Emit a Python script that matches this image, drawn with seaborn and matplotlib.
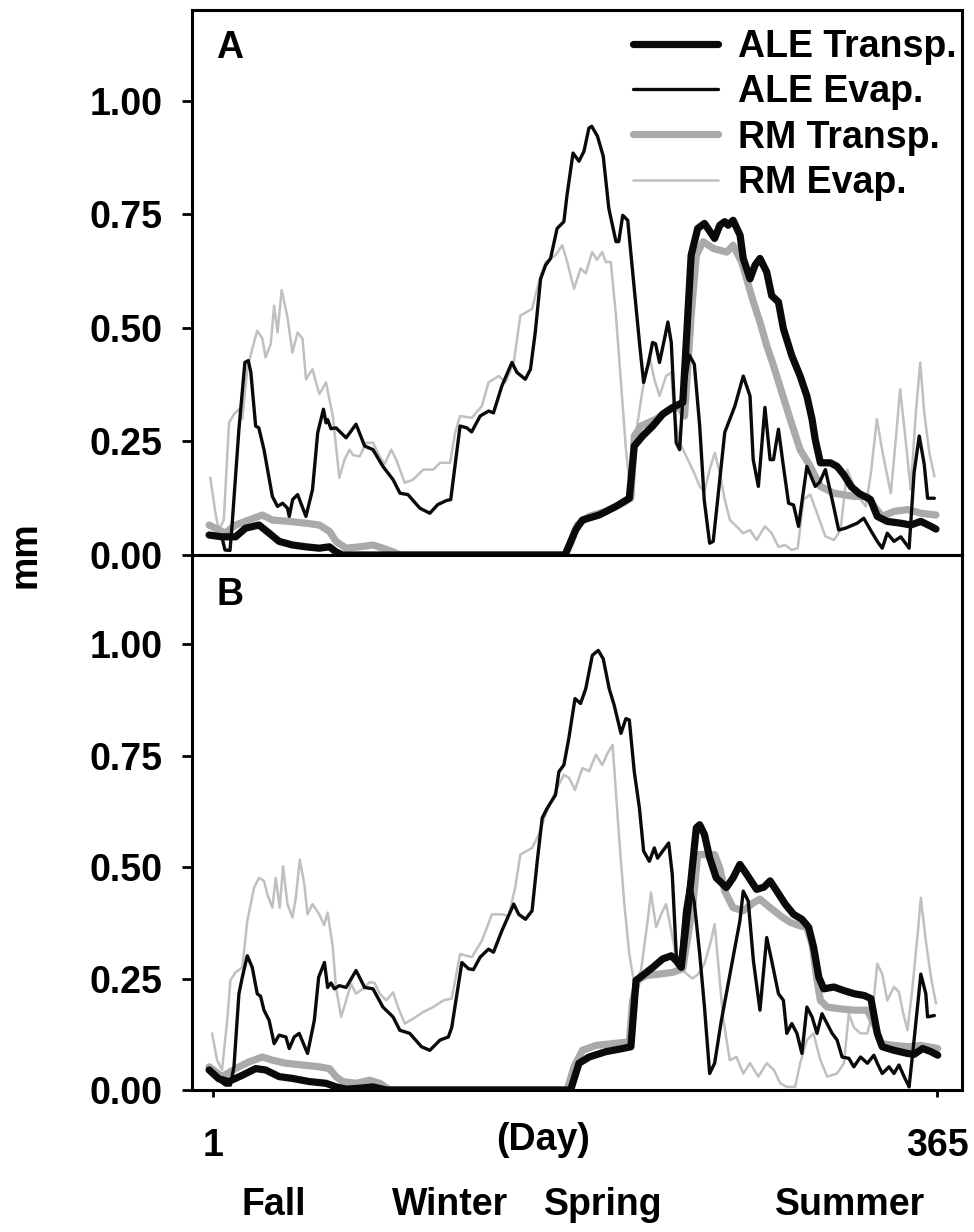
import matplotlib
matplotlib.use("Agg")
import matplotlib.pyplot as plt
import seaborn as sns
import pandas as pd

# ---------------- data ----------------
SERIES = ["ALE Transp.", "ALE Evap.", "RM Transp.", "RM Evap."]
SEASONS = ["Fall", "Winter", "Spring", "Summer"]
X_TICKS = [1, 365]
Y_TICKS = [0.0, 0.25, 0.5, 0.75, 1.0]

# Panel A
A_ALE_EVAP_DAY = [-1, 5.5, 7, 9.5, 10.5, 14, 17, 18.7, 20, 22.4,
                  24, 26.6, 30.8, 33.4, 36, 38.4, 39.3, 41, 43.5, 47.7,
                  51, 53.6, 56.5, 57.8, 58.6, 60.3, 62.8, 67.9, 72.9, 77.2,
                  81.4, 86.4, 91.5, 95, 99, 105, 110, 114, 118.4, 120.5,
                  125.2, 128.6, 131, 135.3, 139.5, 142, 146.2, 151.3, 153.8, 158,
                  160.6, 163, 165.7, 168.2, 170.7, 174, 177.4, 179, 182, 185,
                  187.5, 190, 191.4, 194.3, 197.2, 200, 203.6, 205, 207, 209.5,
                  212.8, 215.4, 217.5, 220, 222, 223.5, 225.5, 228, 229.7, 231.4,
                  233.9, 235.6, 237.2, 240.5, 243, 245.7, 248, 250.7, 252.5, 255.8,
                  258.3, 263.4, 267.6, 271, 272.6, 275.2, 278.5, 281.1, 282.8, 285.3,
                  287.8, 290.4, 292.9, 295.4, 299.6, 303.8, 306, 308.9, 312.3, 315.6,
                  319, 324.9, 328.2, 331.6, 335, 337.5, 340, 343.4, 346.8, 351,
                  353.5, 356.1, 358.6, 360.3, 363.7]
A_ALE_EVAP = [0.044, 0.038, 0.011, 0.010, 0.063, 0.277, 0.424, 0.428, 0.402, 0.284,
              0.280, 0.232, 0.129, 0.107, 0.114, 0.103, 0.085, 0.122, 0.133, 0.085,
              0.144, 0.269, 0.321, 0.291, 0.298, 0.278, 0.280, 0.258, 0.288, 0.240,
              0.232, 0.195, 0.166, 0.136, 0.133, 0.103, 0.092, 0.111, 0.120, 0.122,
              0.284, 0.280, 0.271, 0.306, 0.317, 0.313, 0.372, 0.424, 0.402, 0.387,
              0.409, 0.490, 0.608, 0.638, 0.653, 0.719, 0.734, 0.793, 0.885, 0.867,
              0.889, 0.940, 0.944, 0.922, 0.878, 0.763, 0.690, 0.690, 0.748, 0.737,
              0.586, 0.468, 0.380, 0.424, 0.468, 0.465, 0.424, 0.476, 0.513, 0.468,
              0.247, 0.232, 0.343, 0.440, 0.420, 0.284, 0.120, 0.026, 0.030, 0.166,
              0.270, 0.328, 0.394, 0.350, 0.210, 0.151, 0.325, 0.210, 0.210, 0.277,
              0.195, 0.114, 0.110, 0.063, 0.195, 0.151, 0.160, 0.188, 0.122, 0.055,
              0.059, 0.070, 0.081, 0.055, 0.030, 0.015, 0.048, 0.030, 0.040, 0.015,
              0.181, 0.262, 0.200, 0.125, 0.125]

A_ALE_TRANSP_DAY = [-1, 5.5, 12.3, 17.3, 24.1, 29.2, 34.2, 40.9, 47.7, 54.4,
                    59.5, 62.8, 66, 178, 183.3, 186.7, 195.1, 203.6, 210.3, 212.8,
                    217, 222.1, 227.1, 232.2, 237.2, 239.7, 241.4, 244.7, 248.1, 253.2,
                    255.8, 258.3, 260, 262.5, 266, 267.6, 271, 273.5, 276, 279.4,
                    281.9, 285.3, 287.8, 292, 296.2, 299.6, 302.2, 303.8, 306.4, 311.4,
                    314.8, 318.1, 322, 326, 331.6, 335, 340, 346.8, 351.8, 356.9,
                    362, 364.5]
A_ALE_TRANSP = [0.044, 0.040, 0.040, 0.059, 0.066, 0.048, 0.030, 0.022, 0.018, 0.015,
                0.018, 0.007, 0.0, 0.0, 0.055, 0.077, 0.088, 0.107, 0.125, 0.240,
                0.262, 0.284, 0.310, 0.325, 0.336, 0.527, 0.660, 0.719, 0.730, 0.697,
                0.726, 0.734, 0.726, 0.737, 0.704, 0.653, 0.608, 0.638, 0.653, 0.623,
                0.571, 0.557, 0.498, 0.439, 0.394, 0.350, 0.299, 0.254, 0.203, 0.203,
                0.195, 0.177, 0.150, 0.135, 0.122, 0.085, 0.074, 0.070, 0.066, 0.074,
                0.063, 0.057]

A_RM_TRANSP_DAY = [-1, 7, 12.3, 19, 25.8, 30.8, 39.3, 47.7, 54.4, 59.5,
                   62.8, 67.9, 74.7, 81.4, 86.4, 91.5, 95, 178, 180.8, 184.2,
                   190.1, 198.5, 206.9, 211.1, 212.8, 216.2, 223.8, 230.5, 235.6, 238.1,
                   241.4, 244, 247.4, 252.5, 259.3, 262.5, 266.8, 269.3, 272.7, 276,
                   279.4, 282.8, 287, 291.2, 296.2, 301.3, 306.4, 313.2, 323.3, 330,
                   333.4, 337.5, 343.4, 350.2, 356.9, 364.5]
A_RM_TRANSP = [0.066, 0.048, 0.066, 0.077, 0.088, 0.077, 0.074, 0.070, 0.066, 0.052,
               0.030, 0.015, 0.018, 0.022, 0.015, 0.007, 0.0, 0.0, 0.026, 0.066,
               0.085, 0.096, 0.114, 0.125, 0.262, 0.284, 0.299, 0.321, 0.325, 0.306,
               0.527, 0.660, 0.690, 0.675, 0.667, 0.682, 0.645, 0.608, 0.557, 0.513,
               0.461, 0.417, 0.358, 0.299, 0.232, 0.195, 0.151, 0.136, 0.129, 0.129,
               0.107, 0.085, 0.096, 0.100, 0.092, 0.088]

A_RM_EVAP_DAY = [-0.4, 2.2, 3.9, 6.4, 9, 11.5, 14, 15.7, 18.2, 20.7,
                 23.2, 25.8, 27.4, 30, 31.7, 33.4, 35.5, 38.4, 40.9, 43.5,
                 46, 47.7, 51, 54.4, 57.8, 61.2, 64.5, 67.1, 69.6, 71.3,
                 74.7, 78, 81.4, 84.8, 87.2, 90.6, 93.1, 97.4, 101.6, 106.7,
                 111.7, 115.1, 120.2, 122.7, 125.2, 131.1, 136.2, 139.5, 144.6, 148,
                 152.2, 155.5, 161.4, 164.8, 168.2, 173.2, 176.6, 179.1, 182.5, 185.8,
                 188.4, 191.6, 194, 196.7, 198.5, 201, 203.6, 206.1, 208.6, 211.1,
                 213.7, 217, 220.4, 222.9, 225.5, 228.8, 231.4, 233, 235.6, 238.1,
                 243, 245.7, 248.1, 250.7, 253.3, 255.8, 258.3, 260.9, 264.2, 267.6,
                 271, 274.3, 278.5, 281.9, 285.3, 288.7, 292, 295, 297.9, 301.3,
                 304.7, 308.9, 313.2, 316.5, 319.9, 323.3, 326.7, 329.2, 331.8, 334.8,
                 337.7, 341.8, 344.3, 346.5, 349.4, 351.8, 354.4, 356.6, 358.6, 361.2,
                 363.7]
A_RM_EVAP = [0.170, 0.092, 0.055, 0.077, 0.291, 0.310, 0.321, 0.300, 0.409, 0.454,
             0.494, 0.476, 0.435, 0.465, 0.549, 0.490, 0.583, 0.524, 0.446, 0.490,
             0.476, 0.387, 0.409, 0.354, 0.380, 0.306, 0.170, 0.210, 0.232, 0.220,
             0.217, 0.247, 0.247, 0.217, 0.200, 0.232, 0.210, 0.159, 0.166, 0.188,
             0.188, 0.203, 0.203, 0.269, 0.306, 0.302, 0.328, 0.380, 0.394, 0.380,
             0.424, 0.527, 0.542, 0.601, 0.645, 0.660, 0.682, 0.645, 0.586, 0.631,
             0.620, 0.667, 0.650, 0.667, 0.645, 0.645, 0.527, 0.380, 0.232, 0.129,
             0.269, 0.365, 0.439, 0.387, 0.350, 0.394, 0.402, 0.306, 0.247, 0.225,
             0.180, 0.151, 0.140, 0.188, 0.225, 0.181, 0.122, 0.077, 0.063, 0.048,
             0.055, 0.033, 0.063, 0.048, 0.018, 0.022, 0.011, 0.015, 0.122, 0.133,
             0.092, 0.041, 0.033, 0.055, 0.188, 0.151, 0.122, 0.107, 0.181, 0.299,
             0.225, 0.136, 0.254, 0.365, 0.247, 0.144, 0.314, 0.424, 0.314, 0.225,
             0.173]

# Panel B
B_ALE_EVAP_DAY = [-1, 3.9, 7.2, 9.7, 11.5, 14, 15.7, 18.2, 20.7, 23.2,
                  24.9, 26.6, 29.2, 31.7, 34.2, 37.6, 39.3, 41.8, 44.3, 48.5,
                  51.9, 54.1, 57, 58.6, 60.3, 62, 64.5, 67.9, 72.9, 77.2,
                  81.4, 86.4, 91.5, 94.9, 99.9, 105.8, 110, 115.1, 119.3, 121,
                  126.1, 129.4, 131.9, 135.3, 139.5, 142, 146.2, 152.2, 154.7, 158.1,
                  161.4, 164, 166.5, 169, 173.2, 174.9, 177.4, 179.9, 183, 185.8,
                  188.4, 191.7, 194.7, 197.2, 200.2, 202.7, 206.1, 208.6, 210.3, 212.8,
                  215.4, 217.5, 220.4, 222.9, 224.5, 227.1, 230.1, 231.9, 233.9, 235.6,
                  238.1, 240.6, 243, 245.7, 248.1, 250.7, 253.2, 256.6, 259.1, 262.5,
                  265.9, 267.6, 270.1, 272.7, 276, 279.4, 281.9, 285.3, 287.8, 289.5,
                  292, 294.6, 297.1, 299.6, 302.2, 304.7, 307.2, 312.3, 314.8, 317.3,
                  320.7, 323.2, 326.6, 330, 333.3, 335, 337.5, 340.9, 343.4, 345.9,
                  348.5, 351, 353.5, 356.9, 359.4, 360.3, 363.7]
B_ALE_EVAP = [0.041, 0.022, 0.011, 0.011, 0.052, 0.216, 0.253, 0.301, 0.275, 0.216,
              0.210, 0.179, 0.156, 0.104, 0.123, 0.119, 0.093, 0.119, 0.127, 0.082,
              0.156, 0.253, 0.286, 0.230, 0.240, 0.227, 0.234, 0.230, 0.268, 0.230,
              0.227, 0.186, 0.164, 0.134, 0.127, 0.097, 0.089, 0.112, 0.119, 0.140,
              0.286, 0.272, 0.270, 0.298, 0.316, 0.309, 0.357, 0.417, 0.394, 0.383,
              0.402, 0.513, 0.610, 0.632, 0.662, 0.714, 0.729, 0.789, 0.878, 0.867,
              0.900, 0.975, 0.986, 0.967, 0.900, 0.863, 0.800, 0.833, 0.830, 0.714,
              0.632, 0.536, 0.513, 0.543, 0.520, 0.536, 0.554, 0.484, 0.305, 0.275,
              0.402, 0.469, 0.420, 0.305, 0.186, 0.037, 0.060, 0.156, 0.216, 0.298,
              0.379, 0.446, 0.424, 0.290, 0.179, 0.342, 0.290, 0.216, 0.201, 0.127,
              0.149, 0.127, 0.082, 0.186, 0.164, 0.127, 0.171, 0.127, 0.112, 0.074,
              0.071, 0.052, 0.074, 0.060, 0.078, 0.060, 0.037, 0.052, 0.037, 0.056,
              0.030, 0.007, 0.112, 0.260, 0.216, 0.164, 0.167]

B_ALE_TRANSP_DAY = [-1, 3.9, 8.8, 15.7, 22.4, 27.4, 34.2, 40.9, 49.3, 57.8,
                    62.8, 67.9, 74.7, 81.4, 88, 180.8, 185, 190.1, 198.5, 206.9,
                    211.1, 213.7, 217, 222.1, 227.1, 231.4, 233.9, 236.4, 240.6, 244,
                    245.7, 248.1, 250.7, 254, 259.1, 262.5, 265.9, 269.3, 274.3, 278,
                    281.1, 284.5, 288.7, 292.9, 297.1, 300.5, 303, 305.6, 308.1, 313.2,
                    318.2, 323.3, 328.4, 331.8, 335, 337.5, 343.4, 350.2, 353.5, 357.8,
                    362, 365.4]
B_ALE_TRANSP = [0.045, 0.025, 0.019, 0.033, 0.048, 0.045, 0.030, 0.026, 0.019, 0.015,
                0.007, 0.002, 0.004, 0.007, 0.0, 0.0, 0.060, 0.074, 0.086, 0.093,
                0.097, 0.246, 0.257, 0.275, 0.294, 0.301, 0.290, 0.275, 0.439, 0.588,
                0.595, 0.573, 0.521, 0.476, 0.454, 0.476, 0.506, 0.484, 0.450, 0.455,
                0.469, 0.446, 0.417, 0.394, 0.383, 0.365, 0.320, 0.253, 0.227, 0.231,
                0.223, 0.216, 0.212, 0.205, 0.127, 0.097, 0.089, 0.082, 0.080, 0.093,
                0.086, 0.078]

B_RM_TRANSP_DAY = [-1, 5.5, 12.3, 19, 25.8, 30.8, 37.6, 46, 54.4, 59.5,
                   62.8, 66.2, 72.9, 79.7, 84.8, 89.8, 179, 182.5, 186.7, 193.5,
                   201.9, 210.3, 212, 214.5, 218.8, 225.5, 232.2, 237.2, 242.3, 244.7,
                   249, 253.2, 255.8, 258.3, 262.5, 267.6, 272.7, 276, 281.1, 286.2,
                   291.2, 296.3, 299.6, 302.2, 304.7, 306.4, 309.8, 316.5, 323.3, 330,
                   334.2, 336.8, 343.4, 350.2, 356.9, 365.4]
B_RM_TRANSP = [0.052, 0.030, 0.048, 0.063, 0.074, 0.067, 0.060, 0.056, 0.052, 0.048,
               0.030, 0.019, 0.015, 0.022, 0.015, 0.0, 0.0, 0.052, 0.089, 0.100,
               0.104, 0.108, 0.201, 0.246, 0.257, 0.260, 0.264, 0.272, 0.417, 0.528,
               0.528, 0.528, 0.498, 0.446, 0.409, 0.402, 0.420, 0.428, 0.409, 0.391,
               0.376, 0.368, 0.365, 0.327, 0.246, 0.201, 0.186, 0.182, 0.179, 0.179,
               0.141, 0.104, 0.100, 0.097, 0.100, 0.093]

B_RM_EVAP_DAY = [0.5, 3, 5.5, 8.1, 9.7, 12.3, 15.7, 18.2, 21.6, 24.1,
                 26.6, 28.3, 30.8, 32.5, 34.5, 36.2, 38.4, 40.9, 42.6, 44.6,
                 46.9, 48.5, 51, 54.4, 56.8, 58.6, 61.2, 62.8, 65.4, 67.9,
                 70.4, 72.9, 76.3, 79.7, 82.2, 84.8, 88.1, 91.5, 94, 97.4,
                 101.6, 106.7, 111.7, 116.8, 121, 125.2, 131.1, 136.2, 141.2, 146.3,
                 149.6, 152.9, 155.5, 161.4, 164.8, 168.2, 173.2, 177.4, 180, 183,
                 186.7, 190.1, 193.5, 196.7, 199.3, 201.9, 205.2, 207.8, 210.3, 212.8,
                 216.2, 219.5, 221.2, 223.8, 226.3, 228.8, 231.4, 233.9, 237.2, 242,
                 245, 248.1, 251.4, 253.2, 254.9, 257.4, 260.8, 264.2, 267.6, 271,
                 275.2, 279.4, 283, 286.2, 289.5, 293.7, 296.2, 299.6, 302.9, 306.4,
                 309.8, 314.8, 318.2, 320.7, 323.3, 326.6, 330, 332.5, 335, 337.5,
                 340, 343.4, 345.9, 347.7, 350.2, 352.7, 355.3, 356.9, 359.4, 362,
                 364.5]
B_RM_EVAP = [0.127, 0.067, 0.045, 0.156, 0.246, 0.264, 0.275, 0.379, 0.454, 0.476,
             0.469, 0.439, 0.409, 0.476, 0.409, 0.502, 0.417, 0.387, 0.431, 0.517,
             0.461, 0.394, 0.417, 0.394, 0.370, 0.398, 0.320, 0.230, 0.164, 0.201,
             0.238, 0.216, 0.227, 0.242, 0.240, 0.216, 0.201, 0.219, 0.186, 0.149,
             0.160, 0.175, 0.186, 0.201, 0.205, 0.305, 0.298, 0.335, 0.394, 0.394,
             0.390, 0.454, 0.528, 0.543, 0.573, 0.618, 0.670, 0.707, 0.700, 0.673,
             0.722, 0.715, 0.752, 0.729, 0.755, 0.774, 0.565, 0.417, 0.305, 0.238,
             0.268, 0.379, 0.443, 0.365, 0.394, 0.417, 0.357, 0.298, 0.268, 0.250,
             0.260, 0.283, 0.335, 0.372, 0.290, 0.164, 0.067, 0.074, 0.037, 0.060,
             0.030, 0.060, 0.045, 0.015, 0.007, 0.007, 0.060, 0.112, 0.127, 0.067,
             0.030, 0.037, 0.060, 0.171, 0.140, 0.127, 0.127, 0.171, 0.283, 0.260,
             0.201, 0.231, 0.220, 0.179, 0.134, 0.231, 0.350, 0.431, 0.335, 0.253,
             0.194]

PANELS = {
    "A": {"ALE Transp.": (A_ALE_TRANSP_DAY, A_ALE_TRANSP),
          "ALE Evap.": (A_ALE_EVAP_DAY, A_ALE_EVAP),
          "RM Transp.": (A_RM_TRANSP_DAY, A_RM_TRANSP),
          "RM Evap.": (A_RM_EVAP_DAY, A_RM_EVAP)},
    "B": {"ALE Transp.": (B_ALE_TRANSP_DAY, B_ALE_TRANSP),
          "ALE Evap.": (B_ALE_EVAP_DAY, B_ALE_EVAP),
          "RM Transp.": (B_RM_TRANSP_DAY, B_RM_TRANSP),
          "RM Evap.": (B_RM_EVAP_DAY, B_RM_EVAP)},
}

# ---------------- styling ----------------
STYLE = {
    "ALE Transp.": dict(color="#0a0a0a", lw=5.2, z=4),
    "ALE Evap.": dict(color="#0a0a0a", lw=2.4, z=5),
    "RM Transp.": dict(color="#aaaaaa", lw=5.2, z=3),
    "RM Evap.": dict(color="#c0c0c0", lw=1.8, z=2),
}

sns.set_theme(style="white")
plt.rcParams["font.family"] = ["Liberation Sans", "DejaVu Sans"]
plt.rcParams["font.weight"] = "bold"
plt.rcParams["text.color"] = "black"
plt.rcParams["axes.labelcolor"] = "black"
plt.rcParams["xtick.color"] = "black"
plt.rcParams["ytick.color"] = "black"

FS = 27
fig = plt.figure(figsize=(9.74, 12.32), dpi=100)
W, H = 974, 1232
L, R = 192, 962
axA = fig.add_axes([L / W, 1 - 555 / H, (R - L) / W, (555 - 10) / H])
axB = fig.add_axes([L / W, 1 - 1090 / H, (R - L) / W, (1090 - 555) / H])

for name, ax in (("A", axA), ("B", axB)):
    for s in ["RM Evap.", "RM Transp.", "ALE Transp.", "ALE Evap."]:
        d, v = PANELS[name][s]
        df = pd.DataFrame({"day": d, "mm": v})
        st = STYLE[s]
        sns.lineplot(data=df, x="day", y="mm", ax=ax, color=st["color"],
                     linewidth=st["lw"], estimator=None, sort=False,
                     label=s, zorder=st["z"], legend=False)
    ax.set_xlim(-9.6, 377.6)
    ax.set_ylim(0, 1.2)
    ax.set_yticks(Y_TICKS)
    ax.set_yticklabels([f"{t:.2f}" for t in Y_TICKS], fontsize=FS,
                       fontweight="bold", color="black")
    ax.set_xlabel("")
    ax.set_ylabel("")
    for sp in ax.spines.values():
        sp.set_linewidth(2.2)
        sp.set_color("black")
    ax.tick_params(axis="y", direction="out", length=7, width=2, pad=14,
                   colors="black", left=True)
    ax.text(0.049, 0.93 if name == "A" else 0.925, name, transform=ax.transAxes,
            fontsize=FS, fontweight="bold", ha="center", va="center",
            color="black")

axA.set_xticks([])
axB.set_xticks(X_TICKS)
axB.set_xticklabels([str(t) for t in X_TICKS], fontsize=FS, fontweight="bold",
                    color="black")
axB.tick_params(axis="x", direction="out", length=5, width=2, pad=22,
                colors="black", bottom=True)

# legend
handles, labels = axA.get_legend_handles_labels()
order = [labels.index(s) for s in SERIES]
leg = axA.legend([handles[i] for i in order], [labels[i] for i in order],
                 loc="upper right", bbox_to_anchor=(1.018, 1.0), frameon=False,
                 prop={"size": FS, "weight": "bold"}, handlelength=2.25,
                 handletextpad=0.55, labelspacing=0.25, borderaxespad=0.1,
                 borderpad=0.4)
for t in leg.get_texts():
    t.set_color("black")

fig.text(25 / W, 1 - 555 / H, "mm", rotation=90, ha="center", va="center",
         fontsize=FS, fontweight="bold", color="black")
fig.text(543 / W, 1 - 1140 / H, "(Day)", ha="center", va="center",
         fontsize=FS, fontweight="bold", color="black")
for lab, xc in zip(SEASONS, [274, 450, 603, 850]):
    fig.text(xc / W, 1 - 1205 / H, lab, ha="center", va="center",
             fontsize=FS, fontweight="bold", color="black")

fig.savefig("out.png", dpi=100, facecolor="white")
